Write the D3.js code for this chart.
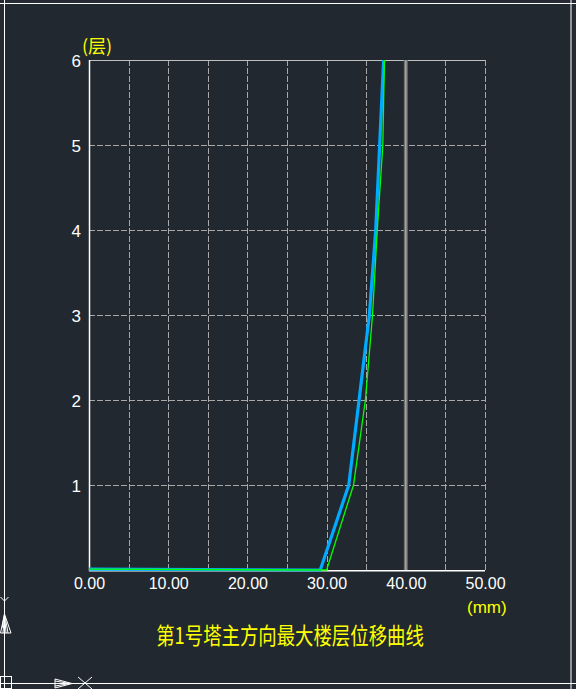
<!DOCTYPE html>
<html><head><meta charset="utf-8">
<script src="https://cdn.jsdelivr.net/npm/d3@7"></script>
<style>html,body{margin:0;padding:0;background:#262b33;}svg{display:block;}</style>
</head><body>
<svg id="c" width="576" height="689"></svg>
<script>
const floors = [0, 1, 2, 3, 4, 5, 6];
const dispBlue = [29.2, 32.8, 34.1, 35.4, 36.2, 36.7, 37.2];
const dispGreen = [30.0, 33.4, 34.9, 35.8, 36.4, 37.1, 37.3];
const limitValue = 40;
const xTicks = [0, 10, 20, 30, 40, 50];
const xGrid = [5, 10, 15, 20, 25, 30, 35, 40, 45, 50];
const yTicks = [1, 2, 3, 4, 5, 6];
const title = "第1号塔主方向最大楼层位移曲线";
const xUnit = "(mm)";
const yUnit = "(层)";

const svg = d3.select("#c");
svg.append("rect").attr("x",0).attr("y",0).attr("width",576).attr("height",689).attr("fill","#262b33");
svg.append("rect").attr("x",4).attr("y",3.5).attr("width",567).attr("height",679.5).attr("fill","#212830");
// frame lines
svg.append("line").attr("x1",0).attr("x2",576).attr("y1",3.5).attr("y2",3.5).attr("stroke","#fff").attr("stroke-width",1);
svg.append("line").attr("x1",571).attr("x2",571).attr("y1",0).attr("y2",689).attr("stroke","#fff").attr("stroke-width",1);
svg.append("line").attr("x1",0).attr("x2",576).attr("y1",683.5).attr("y2",683.5).attr("stroke","#fff").attr("stroke-width",1);
svg.append("line").attr("x1",4.5).attr("x2",4.5).attr("y1",0).attr("y2",689).attr("stroke","#fff").attr("stroke-width",1);

const x = d3.scaleLinear().domain([0, 50]).range([89, 485]);
const y = d3.scaleLinear().domain([0, 6]).range([570, 60]);

const g = svg.append("g");
// grid
g.selectAll(".vg").data(xGrid).join("line")
  .attr("x1", d => Math.round(x(d)) + 0.5).attr("x2", d => Math.round(x(d)) + 0.5)
  .attr("y1", y(6)).attr("y2", y(0))
  .attr("stroke", "#a8a8a8").attr("stroke-width", 1).attr("stroke-dasharray", "6,2");
g.selectAll(".hg").data(yTicks.filter(d => d < 6)).join("line")
  .attr("x1", x(0)).attr("x2", x(50))
  .attr("y1", d => Math.round(y(d)) + 0.5).attr("y2", d => Math.round(y(d)) + 0.5)
  .attr("stroke", "#a8a8a8").attr("stroke-width", 1).attr("stroke-dasharray", "6,2");
// top solid
g.append("line").attr("x1", x(0)).attr("x2", x(50)).attr("y1", y(6)+0.5).attr("y2", y(6)+0.5)
  .attr("stroke", "#c0c0c0").attr("stroke-width", 1.2);

// limit line
g.append("line").attr("x1", x(limitValue)).attr("x2", x(limitValue)).attr("y1", y(6)).attr("y2", y(0))
  .attr("stroke", "#6e6e6e").attr("stroke-width", 4);
g.append("line").attr("x1", x(limitValue)).attr("x2", x(limitValue)).attr("y1", y(6)).attr("y2", y(0))
  .attr("stroke", "#b0b0b0").attr("stroke-width", 1.2);

// axes
const xAxis = d3.axisBottom(x).tickValues(xTicks).tickSize(0).tickFormat(d => d.toFixed(2));
const ax = svg.append("g").attr("transform", `translate(0,${y(0)})`).call(xAxis);
ax.select(".domain").remove();
ax.selectAll("text").attr("dy", 0).attr("y", 18.5).attr("fill", "#fff")
  .style("font-family", "Liberation Sans, Arial, sans-serif").style("font-size", "16px");
const yAxis = d3.axisLeft(y).tickValues(yTicks).tickSize(0).tickFormat(d3.format("d"));
const ay = svg.append("g").attr("transform", `translate(${x(0)},0)`).call(yAxis);
ay.select(".domain").remove();
ay.selectAll("text").attr("x", -8).attr("dy", "0.36em").attr("fill", "#fff")
  .style("font-family", "Liberation Sans, Arial, sans-serif").style("font-size", "17px");

// axis lines
svg.append("line").attr("x1", x(0)+0.5).attr("x2", x(0)+0.5).attr("y1", y(6)).attr("y2", y(0)+1)
  .attr("stroke", "#fff").attr("stroke-width", 1.5);
svg.append("line").attr("x1", x(0)).attr("x2", x(50)).attr("y1", y(0)+0.8).attr("y2", y(0)+0.8)
  .attr("stroke", "#fff").attr("stroke-width", 1.6);

// curves
const line = d3.line().x(d => x(d[0])).y(d => y(d[1]));
const greenPts = [[0, 0.01]].concat(floors.map((f, i) => [dispGreen[i], f]));
const bluePts = [[0, 0.01]].concat(floors.map((f, i) => [dispBlue[i], f]));
svg.append("path").datum(bluePts).attr("d", line).attr("fill", "none")
  .attr("stroke", "#00aaff").attr("stroke-width", 3.2);
svg.append("path").datum(greenPts).attr("d", line).attr("fill", "none")
  .attr("stroke", "#00ff00").attr("stroke-width", 1.3);

// units and title
svg.append("text").attr("x", 82).attr("y", 53).text(yUnit).attr("fill", "#ffff00")
  .style("font-family", "Noto Sans CJK SC, sans-serif").style("font-size", "18px");
svg.append("text").attr("x", 467).attr("y", 613).text(xUnit).attr("fill", "#ffff00")
  .style("font-family", "Liberation Sans, sans-serif").style("font-size", "17px");
svg.append("text").attr("transform", "translate(290,644) scale(0.8,1)").attr("text-anchor", "middle").text(title)
  .attr("fill", "#ffff00")
  .style("font-family", "Noto Sans CJK SC, sans-serif").style("font-size", "23px");

// UCS icon
const u = svg.append("g").attr("stroke", "#fff").attr("fill", "none").attr("stroke-width", 1);
u.append("path").attr("d", "M0.5,597 L4.5,601 L8.5,597");
u.append("path").attr("d", "M4.5,614 L0.5,633 L11,633 Z");
u.append("path").attr("d", "M2,628 L4.5,614 M3,633 L4,620 M6,633 L5,620 M8,633 L5,616");
u.append("rect").attr("x", 0.5).attr("y", 676.5).attr("width", 11).attr("height", 12);
u.append("path").attr("d", "M55,679 L72,683.5 L55,688 Z");
u.append("path").attr("d", "M55,681 L70,683.5 M55,686 L70,683.5 M55,683.5 L72,683.5");
u.append("path").attr("d", "M78,677 L92,689 M92,677 L78,689");
</script>
</body></html>
